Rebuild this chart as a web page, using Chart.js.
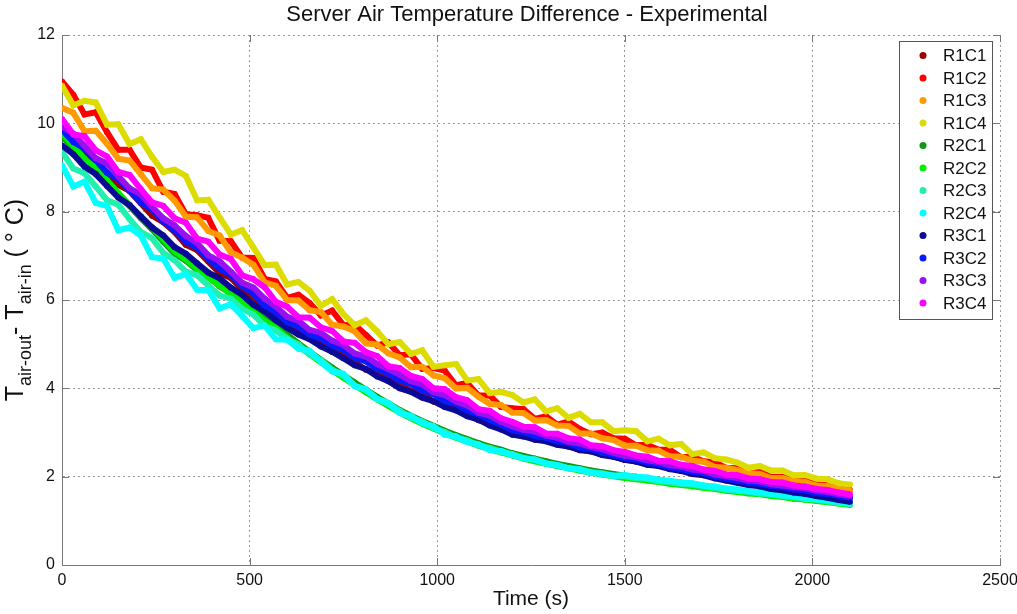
<!DOCTYPE html>
<html>
<head>
<meta charset="utf-8">
<script src="https://cdn.jsdelivr.net/npm/chart.js@4"></script>
<style>
  body { margin: 0; background: #fff; }
  #chart { display: block; }
</style>
</head>
<body>
<canvas id="chart" width="1017" height="614"></canvas>
<script>
// sample times (s)
const times = [
  0, 30, 60, 90, 120, 150, 180, 210, 240, 270,
  300, 330, 360, 390, 420, 450, 480, 510, 540, 570,
  600, 630, 660, 690, 720, 750, 780, 810, 840, 870,
  900, 930, 960, 990, 1020, 1050, 1080, 1110, 1140, 1170,
  1200, 1230, 1260, 1290, 1320, 1350, 1380, 1410, 1440, 1470,
  1500, 1530, 1560, 1590, 1620, 1650, 1680, 1710, 1740, 1770,
  1800, 1830, 1860, 1890, 1920, 1950, 1980, 2010, 2040, 2070, 2100
];

const seriesNames = ['R1C1', 'R1C2', 'R1C3', 'R1C4', 'R2C1', 'R2C2', 'R2C3', 'R2C4', 'R3C1', 'R3C2', 'R3C3', 'R3C4'];
const seriesColors = ['#9c0000', '#ff0000', '#ff9a00', '#dcdc00', '#119911', '#00ee00', '#22f0b0', '#00ffff', '#0a0a96', '#0a1aff', '#9a10ee', '#ff00ff'];

const r1c1 = [
  9.80, 9.62, 9.29, 9.17, 8.88, 8.61, 8.47, 8.19, 7.91, 7.76,
  7.54, 7.25, 7.13, 6.87, 6.61, 6.50, 6.24, 6.07, 5.78, 5.63,
  5.37, 5.31, 5.13, 5.05, 4.83, 4.76, 4.59, 4.42, 4.36, 4.19,
  4.08, 3.94, 3.88, 3.70, 3.65, 3.52, 3.44, 3.28, 3.22, 3.09,
  2.98, 2.95, 2.84, 2.83, 2.74, 2.70, 2.60, 2.59, 2.50, 2.46,
  2.38, 2.35, 2.28, 2.27, 2.18, 2.16, 2.09, 2.06, 2.00, 1.96,
  1.92, 1.86, 1.84, 1.79, 1.77, 1.71, 1.68, 1.63, 1.62, 1.56, 1.52
];
const r1c2 = [
  10.95, 10.65, 10.20, 10.25, 9.80, 9.40, 9.40, 9.00, 8.95, 8.45,
  8.40, 7.94, 7.92, 7.86, 7.34, 7.33, 6.96, 6.95, 6.48, 6.42,
  6.05, 6.12, 5.93, 5.65, 5.76, 5.43, 5.44, 5.21, 4.97, 5.04,
  4.75, 4.77, 4.44, 4.46, 4.40, 4.07, 4.12, 3.84, 3.84, 3.58,
  3.55, 3.53, 3.31, 3.37, 3.18, 3.25, 3.08, 2.96, 3.00, 2.87,
  2.86, 2.71, 2.72, 2.61, 2.61, 2.44, 2.45, 2.35, 2.33, 2.20,
  2.19, 2.11, 2.11, 2.00, 2.00, 1.93, 1.92, 1.82, 1.82, 1.75, 1.70
];
const r1c3 = [
  10.35, 10.24, 9.82, 9.83, 9.54, 9.20, 9.16, 8.85, 8.53, 8.50,
  8.25, 7.89, 7.87, 7.56, 7.46, 7.08, 6.96, 6.80, 6.40, 6.32,
  6.00, 5.99, 5.77, 5.73, 5.44, 5.40, 5.29, 5.02, 4.99, 4.79,
  4.70, 4.48, 4.49, 4.29, 4.23, 4.00, 4.01, 3.81, 3.65, 3.62,
  3.45, 3.44, 3.27, 3.28, 3.16, 3.15, 2.98, 2.98, 2.87, 2.83,
  2.70, 2.70, 2.60, 2.59, 2.46, 2.45, 2.36, 2.34, 2.22, 2.20,
  2.15, 2.08, 2.06, 1.97, 1.97, 1.90, 1.88, 1.80, 1.79, 1.72, 1.68
];
const r1c4 = [
  10.85, 10.41, 10.51, 10.47, 9.97, 9.98, 9.53, 9.64, 9.24, 8.90,
  8.95, 8.81, 8.26, 8.27, 7.87, 7.48, 7.58, 7.19, 6.79, 6.80,
  6.35, 6.41, 6.21, 5.87, 6.02, 5.68, 5.43, 5.54, 5.29, 5.00,
  5.05, 4.78, 4.86, 4.49, 4.52, 4.55, 4.18, 4.21, 3.89, 3.92,
  3.85, 3.68, 3.75, 3.48, 3.55, 3.33, 3.42, 3.23, 3.23, 3.03,
  3.05, 3.03, 2.80, 2.86, 2.71, 2.74, 2.51, 2.55, 2.42, 2.39,
  2.32, 2.20, 2.24, 2.14, 2.14, 2.03, 2.04, 1.96, 1.94, 1.85, 1.82
];
const r2c1 = [
  9.70, 9.46, 9.17, 8.94, 8.64, 8.36, 8.13, 7.85, 7.60, 7.32,
  7.05, 6.89, 6.68, 6.52, 6.31, 6.15, 5.94, 5.78, 5.57, 5.40,
  5.22, 5.02, 4.83, 4.65, 4.47, 4.30, 4.13, 3.97, 3.81, 3.66,
  3.51, 3.38, 3.26, 3.15, 3.04, 2.94, 2.85, 2.76, 2.68, 2.61,
  2.53, 2.47, 2.41, 2.35, 2.29, 2.24, 2.19, 2.14, 2.10, 2.06,
  2.02, 2.00, 1.95, 1.93, 1.88, 1.86, 1.82, 1.79, 1.75, 1.72,
  1.68, 1.66, 1.62, 1.60, 1.56, 1.54, 1.50, 1.48, 1.44, 1.42, 1.38
];
const r2c2 = [
  9.77, 9.49, 9.20, 8.96, 8.71, 8.43, 8.15, 7.90, 7.65, 7.37,
  7.10, 6.92, 6.71, 6.51, 6.33, 6.13, 5.94, 5.74, 5.53, 5.36,
  5.15, 4.96, 4.77, 4.59, 4.41, 4.24, 4.07, 3.91, 3.75, 3.60,
  3.45, 3.32, 3.20, 3.09, 2.98, 2.88, 2.79, 2.70, 2.62, 2.55,
  2.48, 2.41, 2.35, 2.29, 2.24, 2.19, 2.14, 2.09, 2.05, 2.01,
  1.97, 1.94, 1.91, 1.88, 1.84, 1.81, 1.78, 1.75, 1.72, 1.68,
  1.65, 1.62, 1.60, 1.56, 1.54, 1.50, 1.48, 1.45, 1.42, 1.39, 1.36
];
const r2c3 = [
  9.35, 8.98, 8.87, 8.57, 8.26, 8.16, 7.83, 7.54, 7.40, 7.07,
  6.90, 6.64, 6.56, 6.33, 6.10, 6.03, 5.80, 5.67, 5.41, 5.31,
  5.12, 4.99, 4.76, 4.64, 4.42, 4.29, 4.06, 3.96, 3.76, 3.64,
  3.49, 3.33, 3.25, 3.10, 3.01, 2.89, 2.82, 2.71, 2.65, 2.56,
  2.51, 2.42, 2.39, 2.30, 2.26, 2.19, 2.17, 2.10, 2.07, 2.02,
  2.01, 1.97, 1.95, 1.90, 1.88, 1.84, 1.82, 1.78, 1.75, 1.71,
  1.68, 1.66, 1.62, 1.60, 1.56, 1.54, 1.50, 1.48, 1.44, 1.41, 1.38
];
const r2c4 = [
  9.05, 8.57, 8.68, 8.20, 8.13, 7.58, 7.64, 7.46, 6.97, 6.94,
  6.50, 6.59, 6.23, 6.22, 5.81, 5.90, 5.64, 5.36, 5.42, 5.11,
  5.10, 4.90, 4.85, 4.60, 4.38, 4.33, 4.05, 3.98, 3.76, 3.67,
  3.44, 3.38, 3.21, 3.14, 2.95, 2.91, 2.78, 2.73, 2.60, 2.58,
  2.49, 2.42, 2.38, 2.30, 2.26, 2.19, 2.16, 2.09, 2.06, 2.02,
  2.04, 2.00, 1.98, 1.93, 1.91, 1.87, 1.85, 1.80, 1.78, 1.73,
  1.71, 1.67, 1.65, 1.61, 1.59, 1.55, 1.53, 1.49, 1.47, 1.43, 1.40
];
const r3c1 = [
  9.50, 9.30, 9.02, 8.85, 8.58, 8.32, 8.15, 7.89, 7.64, 7.46,
  7.20, 7.05, 6.83, 6.62, 6.49, 6.28, 6.12, 5.89, 5.74, 5.54,
  5.37, 5.22, 5.11, 4.95, 4.83, 4.68, 4.52, 4.44, 4.27, 4.16,
  4.00, 3.92, 3.79, 3.71, 3.58, 3.50, 3.37, 3.29, 3.16, 3.07,
  2.95, 2.91, 2.84, 2.80, 2.72, 2.68, 2.61, 2.57, 2.49, 2.45,
  2.38, 2.34, 2.27, 2.24, 2.17, 2.13, 2.06, 2.03, 1.96, 1.91,
  1.86, 1.81, 1.78, 1.72, 1.69, 1.64, 1.61, 1.56, 1.52, 1.47, 1.43
];
const r3c2 = [
  9.85, 9.58, 9.43, 9.16, 8.88, 8.74, 8.47, 8.21, 8.05, 7.78,
  7.58, 7.32, 7.18, 6.94, 6.70, 6.57, 6.32, 6.15, 5.88, 5.73,
  5.50, 5.40, 5.22, 5.13, 4.97, 4.87, 4.69, 4.61, 4.44, 4.33,
  4.18, 4.10, 3.95, 3.87, 3.71, 3.65, 3.50, 3.41, 3.28, 3.18,
  3.05, 3.01, 2.92, 2.88, 2.80, 2.76, 2.66, 2.63, 2.55, 2.49,
  2.42, 2.39, 2.32, 2.28, 2.21, 2.17, 2.11, 2.08, 2.00, 1.96,
  1.91, 1.86, 1.84, 1.79, 1.76, 1.71, 1.69, 1.63, 1.61, 1.56, 1.52
];
const r3c3 = [
  9.92, 9.77, 9.49, 9.21, 9.09, 8.80, 8.53, 8.39, 8.11, 7.85,
  7.69, 7.45, 7.29, 7.01, 6.88, 6.64, 6.39, 6.28, 6.03, 5.85,
  5.62, 5.53, 5.32, 5.26, 5.08, 4.98, 4.79, 4.72, 4.55, 4.43,
  4.31, 4.16, 4.09, 3.91, 3.85, 3.70, 3.61, 3.45, 3.38, 3.24,
  3.14, 3.06, 3.02, 2.93, 2.88, 2.79, 2.75, 2.67, 2.62, 2.54,
  2.47, 2.44, 2.37, 2.33, 2.26, 2.23, 2.16, 2.13, 2.05, 2.01,
  1.97, 1.91, 1.89, 1.83, 1.80, 1.76, 1.74, 1.68, 1.65, 1.60, 1.56
];
const r3c4 = [
  10.10, 9.75, 9.71, 9.39, 9.25, 8.90, 8.83, 8.51, 8.21, 8.13,
  7.85, 7.75, 7.39, 7.32, 7.03, 6.93, 6.56, 6.47, 6.29, 5.96,
  5.85, 5.61, 5.60, 5.38, 5.30, 5.06, 5.03, 4.82, 4.73, 4.50,
  4.46, 4.28, 4.21, 4.00, 3.98, 3.80, 3.73, 3.53, 3.49, 3.32,
  3.24, 3.13, 3.12, 2.98, 2.97, 2.87, 2.84, 2.71, 2.69, 2.60,
  2.56, 2.48, 2.45, 2.36, 2.35, 2.27, 2.24, 2.16, 2.13, 2.05,
  2.03, 1.96, 1.94, 1.88, 1.87, 1.80, 1.78, 1.72, 1.70, 1.64, 1.60
];

const seriesValues = [r1c1, r1c2, r1c3, r1c4, r2c1, r2c2, r2c3, r2c4, r3c1, r3c2, r3c3, r3c4];

const xTicks = [0, 500, 1000, 1500, 2000, 2500];
const yTicks = [0, 2, 4, 6, 8, 10, 12];
const titleText = 'Server Air Temperature Difference - Experimental';
const yLabelParts = [['T', false], ['air-out', true], ['- T', false], ['air-in', true], [' ( \u00b0 C)', false]];

const FONT = '"Liberation Sans", Arial, Helvetica, sans-serif';
Chart.defaults.font.family = FONT;
Chart.defaults.color = '#111';

const datasets = seriesNames.map((name, i) => ({
  label: name,
  data: times.map((t, j) => ({ x: t, y: seriesValues[i][j] })),
  borderColor: seriesColors[i],
  backgroundColor: seriesColors[i],
  borderWidth: 6,
  pointRadius: 3,
  pointBorderWidth: 0,
  pointBackgroundColor: seriesColors[i],
  tension: 0,
  fill: false,
  order: seriesNames.length - i // last series on top
}));

// title centred over the plot, y axis title with subscripts
const labelsPlugin = {
  id: 'labels',
  afterDraw(chart) {
    const { ctx, chartArea: a } = chart;
    ctx.save();
    ctx.fillStyle = '#111';
    ctx.font = '22px ' + FONT;
    ctx.textAlign = 'center';
    ctx.textBaseline = 'middle';
    ctx.fillText(titleText, (a.left + a.right) / 2 - 4, 15);

    const big = '25px ' + FONT;
    const small = '18px ' + FONT;
    let total = 0;
    yLabelParts.forEach(([s, sub]) => {
      ctx.font = sub ? small : big;
      total += ctx.measureText(s).width;
    });
    const cy = (a.top + a.bottom) / 2;
    ctx.translate(23, cy + total / 2);
    ctx.rotate(-Math.PI / 2);
    ctx.textBaseline = 'alphabetic';
    ctx.textAlign = 'left';
    let x = 0;
    yLabelParts.forEach(([s, sub]) => {
      ctx.font = sub ? small : big;
      ctx.fillText(s, x, sub ? 8 : 0);
      x += ctx.measureText(s).width;
    });
    ctx.restore();
  }
};

// inward tick marks on all four sides
const tickPlugin = {
  id: 'inTicks',
  afterDraw(chart) {
    const { ctx, chartArea: a, scales } = chart;
    ctx.save();
    ctx.strokeStyle = '#777';
    ctx.lineWidth = 1;
    ctx.beginPath();
    xTicks.forEach(v => {
      const px = Math.round(scales.x.getPixelForValue(v)) + 0.5;
      ctx.moveTo(px, a.bottom); ctx.lineTo(px, a.bottom - 7);
      ctx.moveTo(px, a.top); ctx.lineTo(px, a.top + 7);
    });
    yTicks.forEach(v => {
      const py = Math.round(scales.y.getPixelForValue(v)) + 0.5;
      ctx.moveTo(a.left, py); ctx.lineTo(a.left + 7, py);
      ctx.moveTo(a.right, py); ctx.lineTo(a.right - 7, py);
    });
    ctx.stroke();
    ctx.restore();
  }
};

// boxed legend in the upper right corner of the plot
const boxLegendPlugin = {
  id: 'boxLegend',
  afterDraw(chart) {
    const ctx = chart.ctx;
    const left = 899, top = 41, w = 93, h = 278;
    ctx.save();
    ctx.fillStyle = '#fff';
    ctx.fillRect(left, top, w, h);
    ctx.strokeStyle = '#555';
    ctx.lineWidth = 1;
    ctx.strokeRect(left + 0.5, top + 0.5, w, h);
    ctx.font = '17px ' + FONT;
    ctx.textBaseline = 'middle';
    ctx.textAlign = 'left';
    seriesNames.forEach((name, i) => {
      const y = top + 14.5 + i * 22.5;
      ctx.fillStyle = seriesColors[i];
      ctx.beginPath();
      ctx.arc(left + 24, y, 3.5, 0, Math.PI * 2);
      ctx.fill();
      ctx.fillStyle = '#111';
      ctx.fillText(name, left + 44, y + 1);
    });
    ctx.restore();
  }
};

new Chart(document.getElementById('chart'), {
  type: 'line',
  data: { datasets },
  plugins: [labelsPlugin, tickPlugin, boxLegendPlugin],
  options: {
    responsive: false,
    animation: false,
    events: [],
    layout: { padding: { left: 0, right: 17, top: 35, bottom: 0 } },
    plugins: {
      legend: { display: false },
      tooltip: { enabled: false },
      title: { display: false }
    },
    scales: {
      x: {
        type: 'linear',
        min: 0,
        max: 2500,
        afterBuildTicks: (scale) => { scale.ticks = xTicks.map(v => ({ value: v })); },
        afterFit: (scale) => {
          scale.height = 49;
          scale.paddingLeft = 0;
          scale.paddingRight = 0;
        },
        ticks: { font: { size: 16 }, color: '#111', padding: 6, maxRotation: 0, callback: (v) => String(v) },
        grid: { color: '#9a9a9a', drawTicks: false },
        border: { display: true, color: '#777', dash: [2, 3] },
        title: { display: true, text: 'Time (s)', font: { size: 21 }, color: '#111', padding: { top: 0, bottom: 2 } }
      },
      y: {
        min: 0,
        max: 12,
        afterBuildTicks: (scale) => { scale.ticks = yTicks.map(v => ({ value: v })); },
        afterFit: (scale) => { scale.width = 62; },
        ticks: { font: { size: 16 }, color: '#111', padding: 7 },
        grid: { color: '#9a9a9a', drawTicks: false },
        border: { display: true, color: '#777', dash: [2, 3] }
      }
    }
  }
});
</script>
</body>
</html>
